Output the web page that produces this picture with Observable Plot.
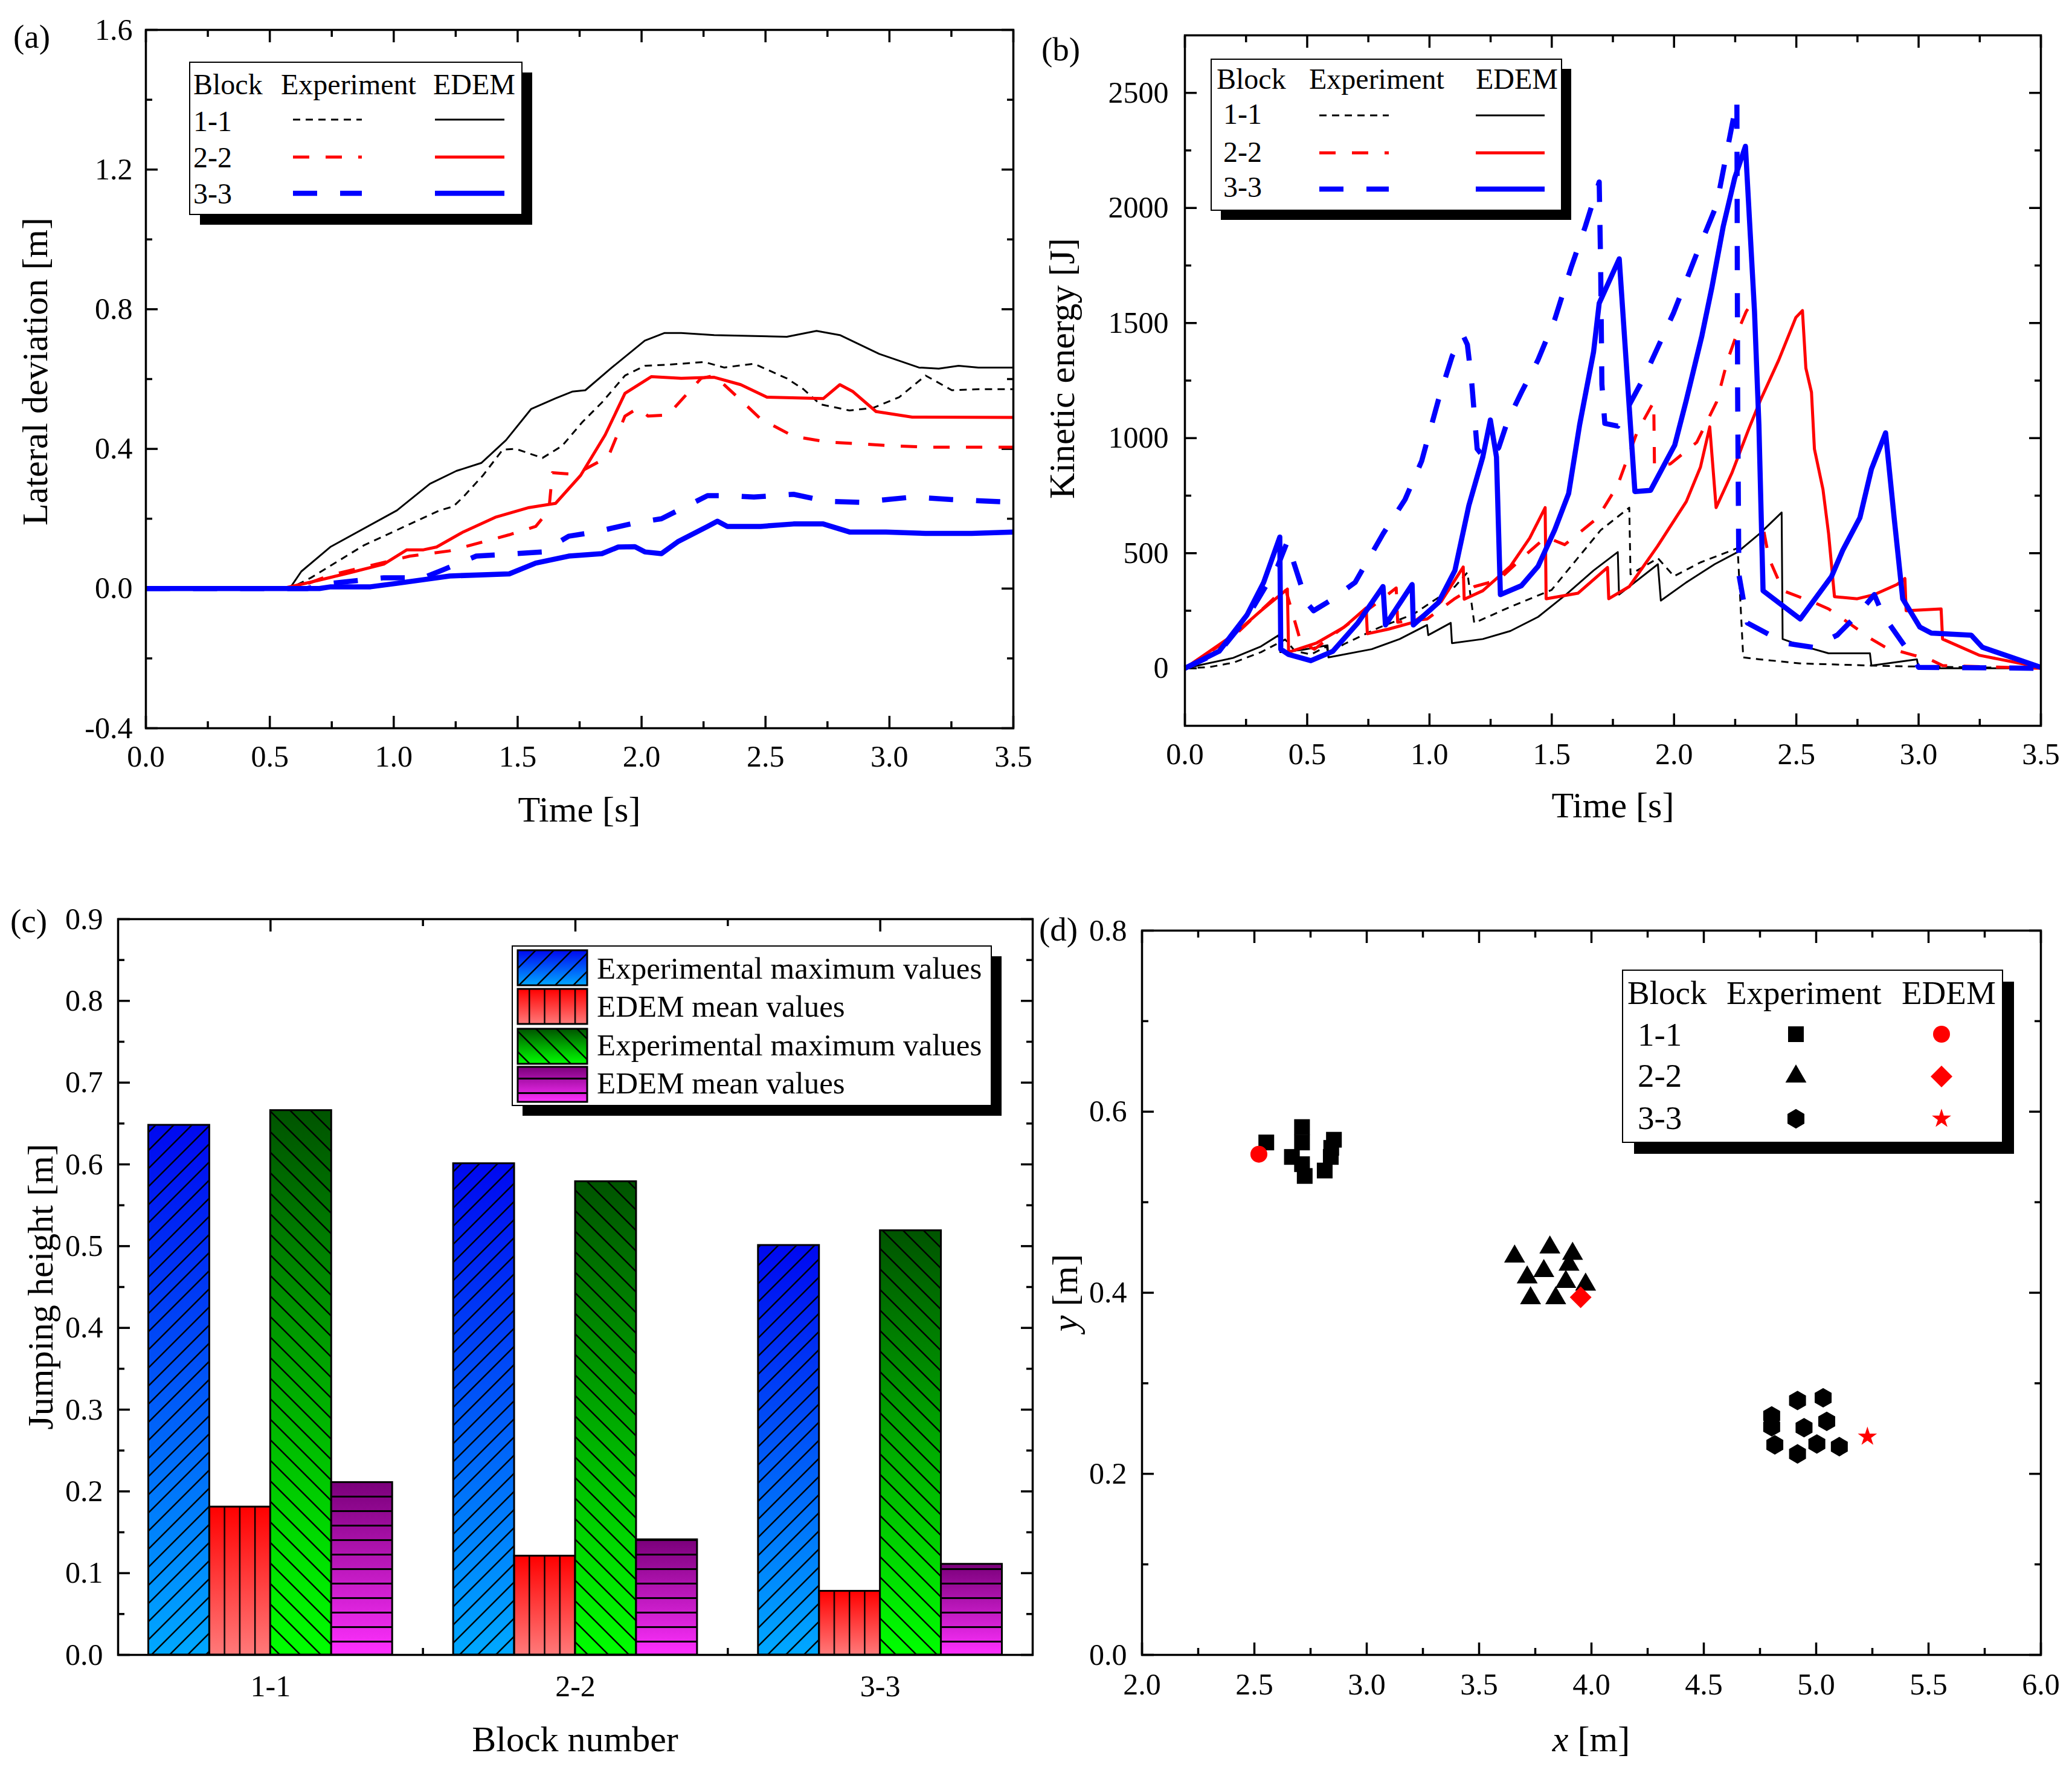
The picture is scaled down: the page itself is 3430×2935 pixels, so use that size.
<!DOCTYPE html>
<html>
<head>
<meta charset="utf-8">
<script src="https://cdn.jsdelivr.net/npm/d3@7"></script>
<script src="https://cdn.jsdelivr.net/npm/@observablehq/plot@0.6"></script>
<style>
  body { margin: 0; background: #fff; }
  #fig { position: relative; width: 3430px; height: 2935px; background: #fff; }
  .panel { position: absolute; }
</style>
</head>
<body>
<div id="fig"></div>
<script>
// ---- (a) lateral deviation [m] against time [s] ----
const latExp11 = [[0,0],[0.58,0],[0.666,0.031],[0.88,0.124],[1.066,0.185],[1.186,0.224],[1.24,0.235],[1.28,0.262],[1.36,0.324],[1.44,0.398],[1.493,0.40],[1.6,0.374],[1.68,0.409],[1.76,0.476],[1.84,0.533],[1.933,0.61],[2.013,0.638],[2.106,0.641],[2.253,0.649],[2.333,0.633],[2.453,0.644],[2.586,0.602],[2.653,0.571],[2.72,0.528],[2.839,0.51],[2.933,0.517],[3.039,0.548],[3.146,0.61],[3.252,0.568],[3.359,0.571],[3.5,0.571]];
const latEdem11 = [[0,0],[0.58,0],[0.627,0.049],[0.746,0.12],[1.013,0.224],[1.146,0.30],[1.253,0.337],[1.354,0.36],[1.453,0.425],[1.554,0.514],[1.653,0.545],[1.72,0.564],[1.773,0.568],[1.88,0.633],[2.013,0.71],[2.093,0.732],[2.16,0.732],[2.293,0.726],[2.586,0.721],[2.706,0.738],[2.8,0.726],[2.959,0.672],[3.119,0.633],[3.199,0.63],[3.279,0.638],[3.359,0.633],[3.5,0.633]];
const latExp22 = [[0,0],[0.6,0],[0.746,0.039],[1.066,0.093],[1.226,0.108],[1.466,0.154],[1.573,0.178],[1.626,0.224],[1.64,0.332],[1.733,0.327],[1.866,0.378],[1.933,0.494],[1.986,0.517],[2.026,0.494],[2.106,0.497],[2.24,0.602],[2.293,0.61],[2.4,0.54],[2.48,0.486],[2.613,0.436],[2.746,0.42],[3.012,0.409],[3.146,0.405],[3.5,0.405]];
const latEdem22 = [[0,0],[0.55,0],[0.693,0.023],[0.826,0.046],[0.96,0.07],[1.053,0.111],[1.12,0.111],[1.173,0.119],[1.28,0.162],[1.413,0.205],[1.546,0.232],[1.653,0.244],[1.754,0.324],[1.853,0.44],[1.933,0.559],[2.04,0.607],[2.16,0.602],[2.293,0.605],[2.4,0.584],[2.506,0.548],[2.733,0.544],[2.8,0.584],[2.853,0.564],[2.946,0.507],[3.092,0.491],[3.5,0.49]];
const latExp33 = [[0,0],[0.65,0],[0.746,0.015],[0.96,0.031],[1.12,0.031],[1.2,0.054],[1.333,0.093],[1.493,0.10],[1.6,0.105],[1.706,0.15],[1.813,0.162],[1.973,0.188],[2.08,0.20],[2.266,0.266],[2.346,0.266],[2.453,0.262],[2.613,0.27],[2.746,0.25],[2.879,0.247],[3.092,0.262],[3.252,0.255],[3.5,0.247]];
const latEdem33 = [[0,0],[0.7,0],[0.746,0.005],[0.906,0.005],[1.013,0.015],[1.146,0.028],[1.226,0.036],[1.466,0.042],[1.573,0.073],[1.706,0.093],[1.84,0.10],[1.906,0.119],[1.973,0.12],[2.013,0.105],[2.08,0.10],[2.146,0.134],[2.266,0.178],[2.306,0.193],[2.346,0.178],[2.48,0.178],[2.613,0.185],[2.733,0.185],[2.839,0.162],[2.986,0.162],[3.146,0.158],[3.332,0.158],[3.5,0.162]];

// ---- (b) kinetic energy [J] against time [s] ----
const keExp11 = [[0,0],[0.1,5],[0.2,25],[0.311,70],[0.41,125],[0.45,75],[0.515,60],[0.58,95],[0.585,65],[0.651,105],[0.79,175],[0.934,235],[1.104,355],[1.155,416],[1.183,197],[1.331,267],[1.499,340],[1.70,600],[1.817,698],[1.822,408],[1.934,478],[2.0,400],[2.108,460],[2.26,522],[2.283,47],[2.35,39],[2.516,21],[2.7,15],[2.903,9],[3.5,0]];
const keEdem11 = [[0,0],[0.197,45],[0.311,95],[0.384,144],[0.39,70],[0.48,80],[0.583,100],[0.587,47],[0.764,83],[0.878,127],[0.99,188],[0.995,144],[1.087,197],[1.092,109],[1.218,127],[1.331,162],[1.444,223],[1.558,320],[1.671,425],[1.77,505],[1.775,320],[1.934,452],[1.946,294],[2.05,373],[2.166,452],[2.26,505],[2.35,585],[2.44,677],[2.444,127],[2.516,100],[2.632,65],[2.801,65],[2.807,12],[2.993,39],[3.0,0],[3.5,0]];
const keExp22 = [[0,0],[0.2,140],[0.3,240],[0.41,350],[0.475,109],[0.53,83],[0.605,144],[0.696,214],[0.78,280],[0.864,349],[0.87,200],[0.99,214],[1.1,300],[1.184,355],[1.283,384],[1.39,490],[1.472,566],[1.499,560],[1.553,537],[1.688,654],[1.769,794],[1.85,1029],[1.917,1157],[1.92,880],[1.985,888],[2.093,982],[2.174,1157],[2.219,1339],[2.26,1462],[2.295,1550],[2.329,1603],[2.34,1200],[2.36,636],[2.388,478],[2.446,337],[2.574,285],[2.632,258],[2.714,197],[2.807,127],[2.865,91],[2.982,56],[3.04,42],[3.098,12],[3.5,0]];
const keEdem22 = [[0,0],[0.197,144],[0.311,250],[0.419,344],[0.424,70],[0.537,109],[0.651,179],[0.741,262],[0.746,150],[0.832,170],[0.934,200],[1.048,290],[1.138,440],[1.142,300],[1.218,337],[1.331,443],[1.41,566],[1.473,698],[1.477,302],[1.607,326],[1.728,438],[1.733,302],[1.817,355],[1.933,531],[2.05,724],[2.108,874],[2.146,1049],[2.172,698],[2.236,847],[2.306,1041],[2.353,1164],[2.428,1339],[2.498,1524],[2.525,1554],[2.539,1304],[2.562,1199],[2.574,953],[2.609,777],[2.632,584],[2.656,311],[2.749,302],[2.819,320],[2.912,364],[2.944,390],[2.949,250],[3.092,258],[3.098,127],[3.25,56],[3.5,4]];
const keExp33 = [[0,0],[0.14,70],[0.254,220],[0.379,443],[0.418,548],[0.498,285],[0.526,250],[0.594,294],[0.696,373],[0.81,584],[0.9,733],[0.968,900],[1.036,1164],[1.093,1357],[1.138,1445],[1.155,1406],[1.172,1252],[1.195,953],[1.229,909],[1.283,958],[1.32,1076],[1.376,1199],[1.444,1340],[1.512,1515],[1.58,1744],[1.637,1919],[1.694,2113],[1.70,1744],[1.705,1234],[1.717,1064],[1.77,1052],[1.877,1263],[1.998,1544],[2.093,1802],[2.174,2013],[2.257,2468],[2.26,1200],[2.265,408],[2.3,197],[2.393,144],[2.457,109],[2.568,91],[2.667,144],[2.749,232],[2.819,320],[2.854,232],[2.947,91],[3.0,4],[3.5,0]];
const keEdem33 = [[0,0],[0.14,74],[0.254,232],[0.322,373],[0.388,570],[0.392,83],[0.424,60],[0.515,33],[0.605,74],[0.707,197],[0.81,355],[0.82,188],[0.929,364],[0.934,188],[1.036,285],[1.104,425],[1.161,707],[1.218,918],[1.249,1079],[1.274,918],[1.29,320],[1.376,359],[1.444,443],[1.512,601],[1.569,759],[1.614,1058],[1.671,1375],[1.694,1586],[1.776,1779],[1.84,768],[1.904,773],[2.003,970],[2.05,1164],[2.114,1445],[2.155,1656],[2.201,1919],[2.248,2130],[2.292,2268],[2.329,1550],[2.347,1058],[2.364,337],[2.516,214],[2.644,399],[2.69,513],[2.76,654],[2.807,865],[2.865,1023],[2.9,654],[2.935,302],[3.005,179],[3.052,153],[3.215,144],[3.261,91],[3.5,4]];

// ---- (c) jumping height [m] per block ----
const blocks = ["1-1", "2-2", "3-3"];
const expMaxBlue = [0.648, 0.601, 0.501];
const edemMeanRed = [0.181, 0.121, 0.078];
const expMaxGreen = [0.666, 0.579, 0.519];
const edemMeanPurple = [0.211, 0.141, 0.111];
const barNames = ["Experimental maximum values", "EDEM mean values", "Experimental maximum values", "EDEM mean values"];

// ---- (d) landing positions [m] ----
const exp11X = [2.553, 2.712, 2.712, 2.667, 2.712, 2.724, 2.813, 2.840, 2.842, 2.854];
const exp11Y = [0.566, 0.583, 0.566, 0.550, 0.542, 0.529, 0.535, 0.550, 0.560, 0.569];
const exp22X = [3.658, 3.815, 3.916, 3.900, 3.788, 3.714, 3.886, 3.974, 3.729, 3.841];
const exp22Y = [0.440, 0.450, 0.443, 0.431, 0.424, 0.417, 0.412, 0.409, 0.394, 0.394];
const exp33X = [4.917, 5.031, 4.802, 4.802, 4.946, 5.047, 4.816, 4.917, 5.003, 5.103];
const exp33Y = [0.281, 0.284, 0.264, 0.252, 0.251, 0.258, 0.232, 0.222, 0.233, 0.230];
const edemX = [2.520, 3.952, 5.228];
const edemY = [0.553, 0.395, 0.241];

// ---- ticks ----
const timeTicks = [0, 0.5, 1, 1.5, 2, 2.5, 3, 3.5];
const timeMinor = [0.25, 0.75, 1.25, 1.75, 2.25, 2.75, 3.25];
const latTicks = [-0.4, 0, 0.4, 0.8, 1.2, 1.6];
const latMinor = [-0.2, 0.2, 0.6, 1.0, 1.4];
const keTicks = [0, 500, 1000, 1500, 2000, 2500];
const keMinor = [250, 750, 1250, 1750, 2250];
const hTicks = [0, 0.1, 0.2, 0.3, 0.4, 0.5, 0.6, 0.7, 0.8, 0.9];
const hMinor = [0.05, 0.15, 0.25, 0.35, 0.45, 0.55, 0.65, 0.75, 0.85];
const posXTicks = [2, 2.5, 3, 3.5, 4, 4.5, 5, 5.5, 6];
const posXMinor = [2.25, 2.75, 3.25, 3.75, 4.25, 4.75, 5.25, 5.75];
const posYTicks = [0, 0.2, 0.4, 0.6, 0.8];
const posYMinor = [0.1, 0.3, 0.5, 0.7];

const SERIF = "'Liberation Serif', 'Times New Roman', serif";
const fig = document.getElementById("fig");
const plotStyle = {fontFamily: SERIF, fontSize: "50px", background: "transparent", overflow: "visible"};

const styles = {
  exp11: {stroke: "black", strokeWidth: 3, strokeDasharray: "12,9"},
  edem11: {stroke: "black", strokeWidth: 3},
  exp22: {stroke: "#ff0000", strokeWidth: 5, strokeDasharray: "27,27"},
  edem22: {stroke: "#ff0000", strokeWidth: 5},
  exp33: {stroke: "#0000ff", strokeWidth: 8.5, strokeDasharray: "40,38"},
  edem33: {stroke: "#0000ff", strokeWidth: 8.5}
};

function place(node, left, top) {
  const div = document.createElement("div");
  div.className = "panel";
  div.style.left = left + "px";
  div.style.top = top + "px";
  div.appendChild(node);
  fig.appendChild(div);
}

// inward ticks on all four sides, like the original figure
function boxTicks(o) {
  const t = {stroke: "black", strokeWidth: 3.5, tickFormat: () => "", label: null};
  const m = [];
  for (const anchor of ["bottom", "top"]) {
    m.push(Plot.axisX({...t, anchor, ticks: o.xMajor, tickSize: -20}));
    m.push(Plot.axisX({...t, anchor, ticks: o.xMinor, tickSize: -11}));
  }
  for (const anchor of ["left", "right"]) {
    m.push(Plot.axisY({...t, anchor, ticks: o.yMajor, tickSize: -20}));
    m.push(Plot.axisY({...t, anchor, ticks: o.yMinor, tickSize: -11}));
  }
  return m;
}
function tickLabels(o) {
  return [
    Plot.axisX({anchor: "bottom", ticks: o.xLabels || o.xMajor, tickSize: 0, tickPadding: o.xPad, tickFormat: o.xFormat, label: null, fontSize: 50}),
    Plot.axisY({anchor: "left", ticks: o.yMajor, tickSize: 0, tickPadding: o.yPad, tickFormat: o.yFormat, label: null, fontSize: 50})
  ];
}
function seriesLines(series) {
  return Object.entries(series).map(([key, data]) =>
    Plot.line(data, {x: d => d[0], y: d => d[1], ...styles[key], strokeLinecap: "butt", strokeLinejoin: "round"}));
}
const f1 = d => d.toFixed(1);

// (a)
place(Plot.plot({
  width: 1715, height: 1460,
  marginLeft: 241, marginRight: 38, marginTop: 49, marginBottom: 255,
  x: {domain: [0, 3.5], axis: null},
  y: {domain: [-0.4, 1.6], axis: null},
  style: plotStyle,
  marks: [
    ...boxTicks({xMajor: timeTicks, xMinor: timeMinor, yMajor: latTicks, yMinor: latMinor}),
    ...seriesLines({exp11: latExp11, edem11: latEdem11, exp22: latExp22, edem22: latEdem22, exp33: latExp33, edem33: latEdem33}),
    Plot.frame({stroke: "black", strokeWidth: 3.5}),
    ...tickLabels({xMajor: timeTicks, yMajor: latTicks, xFormat: f1, yFormat: f1, xPad: 28, yPad: 22})
  ]
}), 0, 0);

// (b)
place(Plot.plot({
  width: 1715, height: 1460,
  marginLeft: 246, marginRight: 52, marginTop: 58, marginBottom: 259,
  x: {domain: [0, 3.5], axis: null},
  y: {domain: [-250, 2750], axis: null},
  style: plotStyle,
  marks: [
    ...boxTicks({xMajor: timeTicks, xMinor: timeMinor, yMajor: keTicks, yMinor: keMinor}),
    ...seriesLines({exp11: keExp11, edem11: keEdem11, exp22: keExp22, edem22: keEdem22, exp33: keExp33, edem33: keEdem33}),
    Plot.frame({stroke: "black", strokeWidth: 3.5}),
    ...tickLabels({xMajor: timeTicks, yMajor: keTicks, xFormat: f1, yFormat: d => String(d), xPad: 28, yPad: 27})
  ]
}), 1715, 0);

// (c) grouped bars: 4 bars per block, one empty slot between blocks
const groupStep = 5;
const barSeries = [
  {values: expMaxBlue, grad: "gBlue", hatch: "hBlue"},
  {values: edemMeanRed, grad: "gRed", hatch: "hRed"},
  {values: expMaxGreen, grad: "gGreen", hatch: "hGreen"},
  {values: edemMeanPurple, grad: "gPurple", hatch: "hPurple"}
];
const barRows = blocks.flatMap((b, g) => barSeries.map((s, k) => ({
  block: b, series: k, value: s.values[g],
  x1: g * groupStep + k - 2, x2: g * groupStep + k - 1
})));
const blockPos = blocks.map((b, g) => g * groupStep);
const blockGaps = blockPos.slice(1).map(p => p - groupStep / 2);
const cM = {left: 195, right: 6, top: 61, bottom: 196, w: 1715, h: 1475};
const barW = (cM.w - cM.left - cM.right) / 15;

place(Plot.plot({
  width: cM.w, height: cM.h,
  marginLeft: cM.left, marginRight: cM.right, marginTop: cM.top, marginBottom: cM.bottom,
  x: {domain: [-2.5, 12.5], axis: null},
  y: {domain: [0, 0.9], axis: null},
  style: plotStyle,
  marks: [
    ...boxTicks({xMajor: blockPos, xMinor: blockGaps, yMajor: hTicks, yMinor: hMinor}),
    ...barSeries.flatMap((s, k) => {
      const rows = barRows.filter(d => d.series === k);
      return [
        Plot.rectY(rows, {x1: "x1", x2: "x2", y1: 0, y2: "value", fill: `url(#${s.grad})`}),
        Plot.rectY(rows, {x1: "x1", x2: "x2", y1: 0, y2: "value", fill: `url(#${s.hatch})`, stroke: "black", strokeWidth: 3})
      ];
    }),
    Plot.frame({stroke: "black", strokeWidth: 3.5}),
    ...tickLabels({xMajor: blockPos, yMajor: hTicks, xFormat: d => blocks[Math.round(d / groupStep)], yFormat: f1, xPad: 33, yPad: 25})
  ]
}), 0, 1460);

// (d)
const dotR = {square: 14.7, triangle: 12.9, hexagon: 14, circle: 14, diamond2: 16.2, star: 10};
const edemSymbols = ["circle", "diamond2", "star"];
place(Plot.plot({
  width: 1715, height: 1475,
  marginLeft: 175, marginRight: 52, marginTop: 80, marginBottom: 196,
  x: {domain: [2, 6], axis: null},
  y: {domain: [0, 0.8], axis: null},
  style: plotStyle,
  marks: [
    ...boxTicks({xMajor: posXTicks, xMinor: posXMinor, yMajor: posYTicks, yMinor: posYMinor}),
    Plot.dot(d3.zip(exp11X, exp11Y), {x: d => d[0], y: d => d[1], symbol: "square", r: dotR.square, fill: "black"}),
    Plot.dot(d3.zip(exp22X, exp22Y), {x: d => d[0], y: d => d[1], symbol: "triangle", r: dotR.triangle, fill: "black"}),
    Plot.dot(d3.zip(exp33X, exp33Y), {x: d => d[0], y: d => d[1], symbol: "hexagon", r: dotR.hexagon, fill: "black"}),
    ...edemSymbols.map((sym, i) =>
      Plot.dot([[edemX[i], edemY[i]]], {x: d => d[0], y: d => d[1], symbol: sym, r: dotR[sym], fill: "#ff0000"})),
    Plot.frame({stroke: "black", strokeWidth: 3.5}),
    ...tickLabels({xMajor: posXTicks, yMajor: posYTicks, xFormat: f1, yFormat: f1, xPad: 30, yPad: 25})
  ]
}), 1715, 1460);

// ---- overlay: legends, titles, panel letters ----
const ov = d3.select(fig).append("svg")
  .attr("width", 3430).attr("height", 2935)
  .style("position", "absolute").style("left", 0).style("top", 0)
  .attr("font-family", SERIF);
const defs = ov.append("defs");

function grad(id, top, bottom) {
  const g = defs.append("linearGradient").attr("id", id).attr("x1", 0).attr("y1", 0).attr("x2", 0).attr("y2", 1);
  g.append("stop").attr("offset", 0).attr("stop-color", top);
  g.append("stop").attr("offset", 1).attr("stop-color", bottom);
}
grad("gBlue", "#0008f0", "#00a8ff");
grad("gRed", "#ff0000", "#ff7a7a");
grad("gGreen", "#005400", "#00ff00");
grad("gPurple", "#7a007a", "#ff30ff");

function hatch(id, w, h, d, sw, x = 0, y = 0) {
  defs.append("pattern").attr("id", id).attr("patternUnits", "userSpaceOnUse")
    .attr("x", x).attr("y", y).attr("width", w).attr("height", h)
    .append("path").attr("d", d).attr("stroke", "black").attr("stroke-width", sw).attr("fill", "none");
}
hatch("hBlue", 30, 30, "M0,30L30,0M-6,6L6,-6M24,36L36,24", 2.5);
hatch("hGreen", 34, 34, "M0,0L34,34M-6,28L6,40M28,-6L40,6", 2.5);
const redStep = barW / 4;
hatch("hRed", redStep, 20, "M1.2,-1V21", 2.4, cM.left + 1.5 * barW - 1.2, 0);
hatch("hPurple", 20, 24, "M-1,1.5H21", 3, 0, cM.top + (0.9 - edemMeanPurple[0]) / 0.9 * (cM.h - cM.top - cM.bottom) - 1.5);

function legendBox(x0, y0, x1, y1, sh) {
  ov.append("rect").attr("x", x0 + sh).attr("y", y0 + sh).attr("width", x1 - x0).attr("height", y1 - y0).attr("fill", "black");
  ov.append("rect").attr("x", x0).attr("y", y0).attr("width", x1 - x0).attr("height", y1 - y0)
    .attr("fill", "white").attr("stroke", "black").attr("stroke-width", 2);
}
function txt(s, x, y, size, opts = {}) {
  const t = ov.append("text").attr("x", x).attr("y", y).attr("font-size", size).attr("fill", "black");
  if (opts.anchor) t.attr("text-anchor", opts.anchor);
  if (opts.rotate) t.attr("transform", `rotate(${opts.rotate},${x},${y})`);
  return t.text(s);
}
function lineSample(key, xa, xb, y) {
  const s = styles[key];
  ov.append("line").attr("x1", xa).attr("x2", xb).attr("y1", y).attr("y2", y)
    .attr("stroke", s.stroke).attr("stroke-width", s.strokeWidth)
    .attr("stroke-dasharray", s.strokeDasharray || null);
}
function lineLegend(L) {
  legendBox(L.x0, L.y0, L.x1, L.y1, L.sh);
  txt("Block", L.cols[0], L.head, L.fs);
  txt("Experiment", L.cols[1], L.head, L.fs);
  txt("EDEM", L.cols[2], L.head, L.fs);
  blocks.forEach((b, i) => {
    txt(b, L.rowX, L.rows[i], L.fs);
    const k = b.replace("-", "").slice(0, 2);
    lineSample("exp" + k, L.expX[0], L.expX[1], L.lineY[i]);
    lineSample("edem" + k, L.edemX[0], L.edemX[1], L.lineY[i]);
  });
}
lineLegend({x0: 314, y0: 103, x1: 864, y1: 355, sh: 17, fs: 48, head: 156, cols: [320, 465, 717],
  rowX: 320, rows: [217, 277, 337], lineY: [198, 260, 320], expX: [485, 599], edemX: [720, 835]});
lineLegend({x0: 2005, y0: 98, x1: 2585, y1: 348, sh: 16, fs: 48, head: 147, cols: [2014, 2167, 2443],
  rowX: 2025, rows: [205, 268, 326], lineY: [191, 253, 313], expX: [2184, 2299], edemX: [2443, 2557]});

// (c) legend
legendBox(848, 1566, 1641, 1830, 17);
const swY = [[1573, 1631], [1637, 1695], [1703, 1761], [1766, 1824]];
const swBase = [1620, 1683, 1747, 1810];
barSeries.forEach((s, k) => {
  const [ya, yb] = swY[k];
  ov.append("rect").attr("x", 857).attr("y", ya).attr("width", 115).attr("height", yb - ya).attr("fill", `url(#${s.grad})`);
  ov.append("rect").attr("x", 857).attr("y", ya).attr("width", 115).attr("height", yb - ya)
    .attr("fill", `url(#${s.hatch})`).attr("stroke", "black").attr("stroke-width", 3);
  txt(barNames[k], 988, swBase[k], 51);
});

// (d) legend
const hexagon = {
  draw(ctx, size) {
    const rx = Math.sqrt(size / Math.PI), ry = rx * 2 / Math.sqrt(3), hy = ry / 2;
    ctx.moveTo(0, ry); ctx.lineTo(rx, hy); ctx.lineTo(rx, -hy); ctx.lineTo(0, -ry);
    ctx.lineTo(-rx, -hy); ctx.lineTo(-rx, hy); ctx.closePath();
  }
};
const symType = {square: d3.symbolSquare, triangle: d3.symbolTriangle, hexagon, circle: d3.symbolCircle, diamond2: d3.symbolDiamond2, star: d3.symbolStar};
function sym(name, x, y, fill) {
  ov.append("path").attr("transform", `translate(${x},${y})`)
    .attr("d", d3.symbol(symType[name], Math.PI * dotR[name] * dotR[name])()).attr("fill", fill);
}
legendBox(2686, 1606, 3315, 1891, 19);
txt("Block", 2694, 1662, 55);
txt("Experiment", 2858, 1662, 55);
txt("EDEM", 3148, 1662, 55);
const expSymbols = ["square", "triangle", "hexagon"];
const dRows = [1731, 1799, 1869], dSymY = [1712, 1782, 1852];
blocks.forEach((b, i) => {
  txt(b, 2711, dRows[i], 55);
  sym(expSymbols[i], 2973, dSymY[i], "black");
  sym(edemSymbols[i], 3214, dSymY[i], "#ff0000");
});

// axis titles
txt("Time [s]", 959, 1360, 60, {anchor: "middle"});
txt("Lateral deviation [m]", 78, 615, 60, {anchor: "middle", rotate: -90});
txt("Time [s]", 2670, 1353, 60, {anchor: "middle"});
txt("Kinetic energy [J]", 1778, 610, 60, {anchor: "middle", rotate: -90});
txt("Block number", 952, 2899, 60, {anchor: "middle"});
txt("Jumping height [m]", 87, 2130, 60, {anchor: "middle", rotate: -90});
const xt = txt("", 2634, 2899, 60, {anchor: "middle"});
xt.append("tspan").attr("font-style", "italic").text("x");
xt.append("tspan").text(" [m]");
const yt = txt("", 1783, 2140, 60, {anchor: "middle", rotate: -90});
yt.append("tspan").attr("font-style", "italic").text("y");
yt.append("tspan").text(" [m]");

// panel letters
txt("(a)", 22, 79, 55);
txt("(b)", 1724, 100, 55);
txt("(c)", 17, 1543, 55);
txt("(d)", 1720, 1557, 55);
</script>
</body>
</html>
